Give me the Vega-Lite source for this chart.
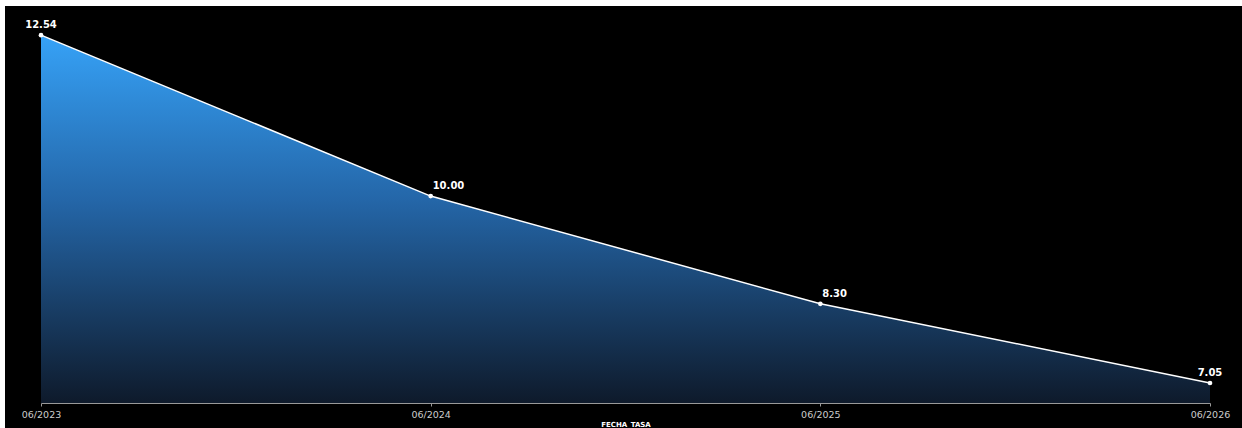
{
  "$schema": "https://vega.github.io/schema/vega-lite/v6.json",
  "width": 1237,
  "height": 422,
  "autosize": {"type": "none"},
  "padding": {"left": 5, "top": 6, "right": 0, "bottom": 0},
  "background": "white",
  "config": {
    "view": {"fill": "black", "stroke": null},
    "font": "DejaVu Sans"
  },
  "data": {
    "values": [
      {"fecha": "06/2023", "tasa": 12.54, "pos": "first"},
      {"fecha": "06/2024", "tasa": 10.00, "pos": "mid"},
      {"fecha": "06/2025", "tasa": 8.30, "pos": "mid"},
      {"fecha": "06/2026", "tasa": 7.05, "pos": "last"}
    ]
  },
  "encoding": {
    "x": {
      "field": "fecha",
      "type": "ordinal",
      "sort": null,
      "scale": {"type": "point", "padding": 0, "range": [36, 1205]},
      "axis": {
        "title": "FECHA_TASA",
        "titleColor": "white",
        "titleFontSize": 7,
        "titleFontWeight": "bold",
        "titlePadding": 2,
        "labelAngle": 0,
        "labelColor": "#cccccc",
        "labelFontSize": 9.5,
        "labelPadding": 3,
        "domainColor": "#999999",
        "domainWidth": 1,
        "tickColor": "#999999",
        "tickSize": 3,
        "offset": -25,
        "grid": false
      }
    },
    "y": {
      "field": "tasa",
      "type": "quantitative",
      "scale": {"domain": [6.34, 13.0], "zero": false},
      "axis": null
    }
  },
  "layer": [
    {
      "mark": {
        "type": "area",
        "color": {
          "gradient": "linear",
          "x1": 0, "y1": 0, "x2": 0, "y2": 1,
          "stops": [
            {"offset": 0, "color": "#36a2f7"},
            {"offset": 0.45, "color": "#2466a8"},
            {"offset": 1, "color": "#0e1a2b"}
          ]
        },
        "opacity": 1
      },
      "encoding": {
        "y2": {"datum": 6.735}
      }
    },
    {
      "mark": {"type": "line", "color": "white", "strokeWidth": 1.5}
    },
    {
      "mark": {"type": "point", "filled": true, "color": "white", "size": 22, "opacity": 1}
    },
    {
      "mark": {
        "type": "text",
        "color": "white",
        "fontWeight": "bold",
        "fontSize": 10,
        "baseline": "middle",
        "dy": -10,
        "align": {"expr": "datum.pos == 'mid' ? 'left' : 'center'"},
        "dx": {"expr": "datum.pos == 'mid' ? 2 : 0"}
      },
      "encoding": {
        "text": {"field": "tasa", "type": "quantitative", "format": ".2f"}
      }
    }
  ]
}
